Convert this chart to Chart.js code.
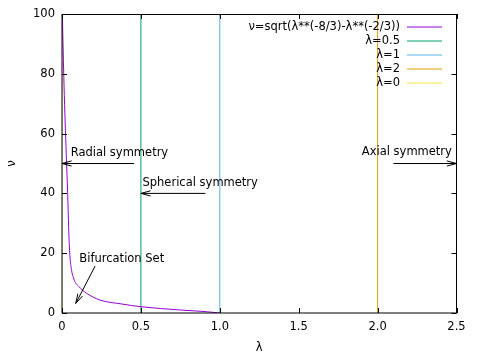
<!DOCTYPE html>
<html><head><meta charset="utf-8">
<script src="https://cdn.jsdelivr.net/npm/chart.js@4"></script>
<style>html,body{margin:0;padding:0;background:#fff}#wrap{width:479px;height:358px}</style>
</head><body><div id="wrap"><canvas id="c" width="479" height="358"></canvas></div>
<script>
// ---- data ----
const curveLabel = 'ν=sqrt(λ**(-8/3)-λ**(-2/3))';
const curveLambda = [0.002, 0.013, 0.027, 0.036, 0.042, 0.049, 0.057, 0.078, 0.108, 0.156, 0.24, 0.38, 0.5, 0.75, 0.9, 1.0];
const curveNu     = [100,   76,    53,    40,    28.7,  20,    15.5,  11,    8.8,   6.6,   4.35, 3.0,  2.1, 1.0,  0.5, 0];
const lineLambdas = [0.5, 1, 2, 0];
const lineLabels  = ['λ=0.5', 'λ=1', 'λ=2', 'λ=0'];
const xTicks = [0, 0.5, 1, 1.5, 2, 2.5];
const yTicks = [0, 20, 40, 60, 80, 100];
const noteTexts = ['Radial symmetry', 'Spherical symmetry', 'Axial symmetry', 'Bifurcation Set'];
const noteLambda = [0.055, 0.51, 1.90, 0.11];
const noteNu     = [53.4, 43.6, 53.7, 18];
const arrowFromLambda = [0.456, 0.909, 2.10, 0.21];
const arrowFromNu     = [50, 40, 50, 15.7];
const arrowToLambda   = [0, 0.5, 2.5, 0.087];
const arrowToNu       = [50, 40, 50, 3.2];

const curveColor = '#9400d3';
const lineColors = ['#009e73', '#56b4e9', '#e69f00', '#f0e442'];
const FONT = 'DejaVu Sans';

Chart.defaults.font = {family: FONT, size: 11.5};
Chart.defaults.color = '#000';

const datasets = [{
  label: curveLabel,
  data: curveLambda.map((l, i) => ({x: l, y: curveNu[i]})),
  borderColor: curveColor, borderWidth: 1, pointRadius: 0,
  cubicInterpolationMode: 'monotone', fill: false
}];
lineLambdas.forEach((l, i) => datasets.push({
  label: lineLabels[i],
  data: [{x: l, y: 0}, {x: l, y: 100}],
  borderColor: lineColors[i], borderWidth: 1, pointRadius: 0, fill: false
}));

const framePlugin = {
  id: 'frame',
  afterDatasetsDraw(chart) {
    const {ctx, chartArea: a, scales: {x, y}} = chart;
    ctx.save();
    ctx.strokeStyle = '#000'; ctx.lineWidth = 1;
    // borders
    ctx.beginPath();
    ctx.moveTo(a.left, a.bottom); ctx.lineTo(a.right, a.bottom);
    ctx.moveTo(a.left, a.top); ctx.lineTo(a.left, a.bottom);
    ctx.stroke();
    ctx.beginPath();
    ctx.moveTo(a.left, Math.floor(a.top) + 0.5); ctx.lineTo(a.right, Math.floor(a.top) + 0.5);
    ctx.moveTo(Math.floor(a.right) + 0.5, a.top); ctx.lineTo(Math.floor(a.right) + 0.5, a.bottom);
    ctx.stroke();
    // inward ticks
    ctx.beginPath();
    yTicks.forEach(v => {
      const py = Math.round(y.getPixelForValue(v)) + 0.5;
      ctx.moveTo(a.left, py); ctx.lineTo(a.left + 5, py);
      ctx.moveTo(a.right, py); ctx.lineTo(a.right - 5, py);
    });
    xTicks.forEach(v => {
      const px = Math.round(x.getPixelForValue(v)) + 0.5;
      ctx.moveTo(px, a.bottom); ctx.lineTo(px, a.bottom - 5);
      ctx.moveTo(px, a.top); ctx.lineTo(px, a.top + 5);
    });
    ctx.stroke();
    // annotations
    ctx.fillStyle = '#000';
    ctx.font = '11.5px "' + FONT + '"';
    ctx.textAlign = 'left'; ctx.textBaseline = 'middle';
    noteTexts.forEach((t, i) => {
      ctx.fillText(t, x.getPixelForValue(noteLambda[i]), y.getPixelForValue(noteNu[i]));
      const x0 = x.getPixelForValue(arrowFromLambda[i]), y0 = y.getPixelForValue(arrowFromNu[i]);
      const x1 = x.getPixelForValue(arrowToLambda[i]), y1 = y.getPixelForValue(arrowToNu[i]);
      const ang = Math.atan2(y1 - y0, x1 - x0);
      const hl = 10, ha = 15 * Math.PI / 180;
      ctx.beginPath();
      ctx.moveTo(x0, y0); ctx.lineTo(x1, y1);
      ctx.moveTo(x1 - hl * Math.cos(ang - ha), y1 - hl * Math.sin(ang - ha));
      ctx.lineTo(x1, y1);
      ctx.lineTo(x1 - hl * Math.cos(ang + ha), y1 - hl * Math.sin(ang + ha));
      ctx.stroke();
    });
    ctx.restore();
  },
  afterDraw(chart) {
    const ctx = chart.ctx;
    ctx.save();
    ctx.font = '11.5px "' + FONT + '"';
    ctx.textAlign = 'right'; ctx.textBaseline = 'middle';
    chart.data.datasets.forEach((d, i) => {
      const yy = 27 + 14 * i;
      ctx.fillStyle = '#000';
      ctx.fillText(d.label, 400, yy);
      ctx.strokeStyle = d.borderColor; ctx.lineWidth = 1;
      ctx.beginPath(); ctx.moveTo(407, yy); ctx.lineTo(442, yy); ctx.stroke();
    });
    ctx.restore();
  }
};

new Chart(document.getElementById('c'), {
  type: 'line',
  data: {datasets},
  options: {
    responsive: false, animation: false, devicePixelRatio: 1,
    layout: {padding: {top: 14, right: 22.5, left: 0, bottom: 0}},
    plugins: {legend: {display: false}, tooltip: {enabled: false}},
    scales: {
      x: {
        type: 'linear', min: 0, max: 2.5,
        grid: {display: false, drawTicks: false}, border: {display: false},
        ticks: {stepSize: 0.5, padding: 7, color: '#000', maxRotation: 0},
        afterBuildTicks(s) { s.ticks = xTicks.map(v => ({value: v})); },
        title: {display: true, text: 'λ', color: '#000', padding: {top: 0, bottom: 3}},
        afterFit(s) { s.height = 45; }
      },
      y: {
        type: 'linear', min: 0, max: 100,
        grid: {display: false, drawTicks: false}, border: {display: false},
        ticks: {stepSize: 20, padding: 7, color: '#000'},
        afterBuildTicks(s) { s.ticks = yTicks.map(v => ({value: v})); },
        title: {display: true, text: 'ν', color: '#000', padding: {top: 5, bottom: 0}},
        afterFit(s) { s.width = 62; }
      }
    }
  },
  plugins: [framePlugin]
});
</script>
</body></html>
